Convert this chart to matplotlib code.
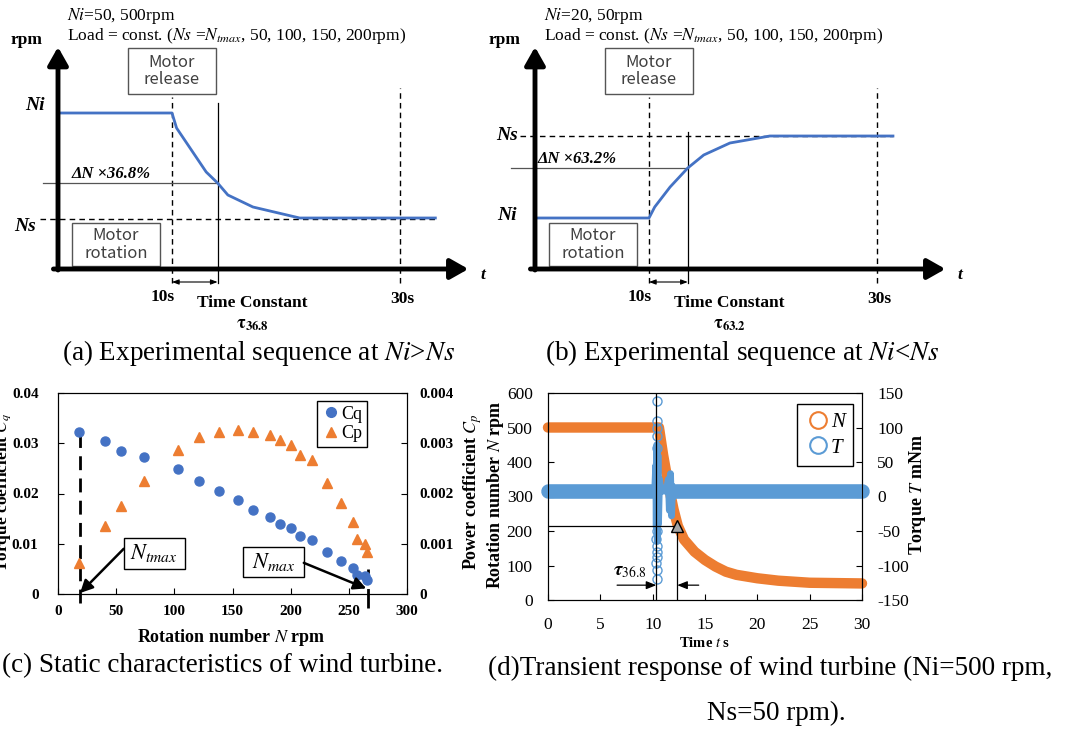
import matplotlib
matplotlib.use('Agg')
import matplotlib.pyplot as plt
from matplotlib.patches import Rectangle
from matplotlib.lines import Line2D

plt.rcParams['font.family'] = 'serif'
plt.rcParams['font.serif'] = ['Liberation Serif', 'DejaVu Serif']
plt.rcParams['mathtext.fontset'] = 'stix'
plt.rcParams['axes.unicode_minus'] = False

W, H = 1073, 731

# (a), (b) sketch curves: time s / schematic speed level
t_a = [0, 10, 10.4, 13.0, 14.0, 14.9, 17.1, 21.2, 33.1]
n_a = [156, 156, 141, 97, 86, 74, 62, 51, 51]
t_b = [0, 10, 10.5, 11.85, 13.4, 14.8, 17.1, 20.6, 31.4]
n_b = [51, 51, 62, 82, 101, 114, 126, 133, 133]

# (c) static characteristics
N_c = [18, 40, 54, 74, 103, 121, 138, 155, 168, 182, 191, 200, 208, 218, 231, 243, 254, 257, 264, 266]
Cq = [0.0323, 0.0304, 0.0285, 0.0272, 0.0248, 0.0224, 0.0205, 0.0187, 0.0167, 0.0154,
      0.0140, 0.0131, 0.0116, 0.0107, 0.0084, 0.0065, 0.0052, 0.0038, 0.0035, 0.0028]
Cp = [0.00062, 0.00136, 0.00175, 0.00225, 0.00286, 0.00312, 0.00322, 0.00327, 0.00322, 0.00316,
      0.00307, 0.00296, 0.00276, 0.00266, 0.00221, 0.00181, 0.00144, 0.00110, 0.00100, 0.00084]
cq_ticks = [0, 0.01, 0.02, 0.03, 0.04]
cq_labels = ['0', '0.01', '0.02', '0.03', '0.04']
cp_ticks = [0, 0.001, 0.002, 0.003, 0.004]
cp_labels = ['0', '0.001', '0.002', '0.003', '0.004']

# (d) transient response
t_N = [0, 10.6, 11.0, 11.5, 12.0, 12.4, 13, 14, 15, 16, 17, 18, 20, 22, 25, 30]
N_d = [500, 500, 420, 335, 262, 215, 175, 140, 116, 97, 82, 73, 63, 56, 50, 48]
t_T = [0, 10.2, 10.3, 10.35, 10.4, 10.45, 10.5, 10.55, 10.65, 10.8, 11.3, 11.5, 11.6, 11.7,
       11.8, 11.9, 12.0, 12.2, 30]
T_d = [8, 8, 45, -45, 75, -65, 60, -40, 25, 8, 8, 25, -20, 33, -28, 15, 0, 8, 8]
t_Tflat = [0, 10.2, float('nan'), 12.2, 30]
T_flat = [8, 8, float('nan'), 8, 8]
t_Tpts = [10.40, 10.45, 10.42, 10.38, 10.45, 10.40, 10.35, 10.42, 10.38, 10.40, 10.36, 10.40, 10.38]
T_pts = [138, 109, 99, 88, 70, -50, -62, -72, -80, -88, -96, -107, -119]
tau_start, tau_end, N_tau = 10.35, 12.35, 215

BLUE = '#4472C4'
ORANGE = '#ED7D31'
LBLUE = '#5B9BD5'
SANS = 'Noto Sans CJK JP'
CAP = 19.5

fig = plt.figure(figsize=(W / 100, H / 100), dpi=100)


def px_axes(left, right, top, bottom):
    return fig.add_axes([left / W, 1 - bottom / H, (right - left) / W, (bottom - top) / H])


def px_text(x, y, s, **kw):
    kw.setdefault('ha', 'center')
    kw.setdefault('va', 'center')
    return fig.text(x / W, 1 - y / H, s, **kw)


def draw_sequence(ax, t, n, info, ns_level, ns_start, ni_lab, ns_lab,
                  pct, pct_start, pct_text, pct_text_t, tau_t, tau_top, tau_text, rpm_t):
    ax.set_xlim(-58 / 11.4, (490 - 58) / 11.4)
    ax.set_ylim(-71, 269)
    ax.axis('off')
    # axes arrows
    ax.annotate('', xy=(0, 222), xytext=(0, -1), arrowprops=dict(
        arrowstyle='-|>,head_length=0.6,head_width=0.34', lw=3.5, color='k',
        mutation_scale=18, shrinkA=0, shrinkB=0))
    ax.annotate('', xy=(36.0, 0), xytext=(-0.4, 0), arrowprops=dict(
        arrowstyle='-|>,head_length=0.6,head_width=0.34', lw=3.5, color='k',
        mutation_scale=18, shrinkA=0, shrinkB=0))
    # guide lines
    ax.plot([ns_start, t[-1]], [ns_level, ns_level], color='k', lw=1, ls=(0, (4, 3)))
    ax.plot([10, 10], [-14, 172], color='k', lw=1, ls=(0, (4, 3)))
    ax.plot([30, 30], [-14, 181], color='k', lw=1, ls=(0, (4, 3)))
    ax.plot([tau_t, tau_t], [-14, tau_top], color='k', lw=0.9)
    ax.plot([pct_start, tau_t], [pct, pct], color='#555555', lw=0.9)
    ax.plot(t, n, color=BLUE, lw=2)
    ax.annotate('', xy=(tau_t, -13), xytext=(10, -13), arrowprops=dict(
        arrowstyle='<|-|>,head_length=0.4,head_width=0.15', lw=0.8, color='k',
        mutation_scale=10, shrinkA=0, shrinkB=0))
    # boxes
    for x0, x1, y0, y1, txt in [(6.1, 13.86, 175, 221, 'Motor\nrelease'),
                                (1.2, 8.95, 3, 46, 'Motor\nrotation')]:
        ax.add_patch(Rectangle((x0, y0), x1 - x0, y1 - y0, fc='white', ec='#555555', lw=1))
        ax.text((x0 + x1) / 2, (y0 + y1) / 2, txt, ha='center', va='center',
                family=SANS, fontsize=12, color='#404040', linespacing=1.05)
    # texts
    ax.text(0.79, 253, info[0], fontsize=12.5, va='center')
    ax.text(0.79, 233, info[1], fontsize=12.5, va='center')
    ax.text(rpm_t, 229, 'rpm', fontsize=12.5, fontweight='bold', ha='center', va='center')
    ax.text(ni_lab[0], ni_lab[1], 'Ni', fontsize=14, fontweight='bold', style='italic',
            ha='center', va='center')
    ax.text(ns_lab[0], ns_lab[1], 'Ns', fontsize=14, fontweight='bold', style='italic',
            ha='center', va='center')
    ax.text(pct_text_t, pct + 1, pct_text, fontsize=12, fontweight='bold', style='italic',
            va='bottom')
    ax.text(9.2, -28, '10s', fontsize=12.5, fontweight='bold', ha='center', va='center')
    ax.text(30.2, -30, '30s', fontsize=12.5, fontweight='bold', ha='center', va='center')
    ax.text(17.0, -34, 'Time Constant', fontsize=12.5, fontweight='bold', ha='center',
            va='center')
    ax.text(17.1, -56, tau_text, fontsize=13, ha='center', va='center')
    ax.text(37.3, -6, 't', fontsize=12.5, fontweight='bold', style='italic', ha='center',
            va='center')


ax_a = px_axes(0, 490, 0, 340)
draw_sequence(ax_a, t_a, n_a,
              [r'$Ni$=50, 500rpm', r'Load = const. ($Ns$ =$N_{tmax}$, 50, 100, 150, 200rpm)'],
              50, -1.58, (-2.0, 164), (-2.9, 42),
              86, -1.3, 'ΔN ×36.8%', 1.23, 14.0, 166, r'$\mathbf{\tau_{36.8}}$', -2.72)

ax_b = px_axes(477, 967, 0, 340)
draw_sequence(ax_b, t_b, n_b,
              [r'$Ni$=20, 50rpm', r'Load = const. ($Ns$ =$N_{tmax}$, 50, 100, 150, 200rpm)'],
              133, -1.3, (-2.46, 53), (-2.46, 134),
              101, -2.1, 'ΔN ×63.2%', 0.26, 13.4, 137, r'$\mathbf{\tau_{63.2}}$', -2.63)

# ---------------- (c) ----------------
ax_c = px_axes(58, 407, 393, 594)
ax_c2 = ax_c.twinx()
ax_c.plot(N_c, Cq, 'o', color=BLUE, ms=6.5, zorder=3)
ax_c2.plot(N_c, Cp, '^', color=ORANGE, ms=7, zorder=3)
ax_c.set_xlim(0, 300)
ax_c.set_ylim(0, 0.04)
ax_c2.set_ylim(0, 0.004)
ax_c.set_xticks(range(0, 301, 50), labels=[str(v) for v in range(0, 301, 50)],
                fontweight='bold', fontsize=11)
ax_c.set_yticks(cq_ticks, labels=cq_labels, fontweight='bold', fontsize=11)
ax_c2.set_yticks(cp_ticks, labels=cp_labels, fontweight='bold', fontsize=11)
ax_c.tick_params(axis='x', direction='in', length=4, pad=8)
ax_c.tick_params(axis='y', direction='in', length=4, pad=14)
ax_c2.tick_params(axis='y', direction='in', length=4, pad=9)
px_text(231, 637, r'Rotation number $N$ rpm', fontsize=13, fontweight='bold')
px_text(473, 492, r'Power coefficient $C_p$', fontsize=13, fontweight='bold', rotation=90)
px_text(3, 492, r'Torque coefficient $C_q$', fontsize=12.5, fontweight='bold', rotation=90)

ax_c.plot([18.5, 18.5], [-0.0017, 0.0322], color='k', lw=2, ls=(0, (5, 3)), clip_on=False)
ax_c.plot([266.5, 266.5], [-0.0027, 0.0050], color='k', lw=2, ls=(0, (7, 3)), clip_on=False)
for x0, x1, y0, y1, txt in [(56.5, 108.9, 0.00498, 0.01114, r'$N_{tmax}$'),
                            (158.8, 211.3, 0.00338, 0.00935, r'$N_{max}$')]:
    ax_c.add_patch(Rectangle((x0, y0), x1 - x0, y1 - y0, fc='white', ec='k', lw=1, zorder=4))
    ax_c.text((x0 + x1) / 2, (y0 + y1) / 2, txt, ha='center', va='center', fontsize=16, zorder=5)
ax_c.annotate('', xy=(19, 0.0002), xytext=(56.5, 0.0090), arrowprops=dict(
    arrowstyle='-|>,head_length=0.5,head_width=0.25', lw=1.8, color='k', mutation_scale=15,
    shrinkA=0, shrinkB=0), zorder=5)
ax_c.annotate('', xy=(265, 0.0011), xytext=(211.3, 0.0062), arrowprops=dict(
    arrowstyle='-|>,head_length=0.5,head_width=0.25', lw=1.8, color='k', mutation_scale=15,
    shrinkA=0, shrinkB=0), zorder=5)
handles = [Line2D([], [], marker='o', ls='none', color=BLUE, ms=7),
           Line2D([], [], marker='^', ls='none', color=ORANGE, ms=7.5)]
leg = ax_c2.legend(handles, ['Cq', 'Cp'], loc='upper right', bbox_to_anchor=(0.885, 0.96),
                   fontsize=13, handletextpad=0.1, borderpad=0.25, labelspacing=0.15,
                   handlelength=1.0, fancybox=False, edgecolor='k', framealpha=1,
                   borderaxespad=0)
leg.get_frame().set_linewidth(1)

# ---------------- (d) ----------------
ax_d = px_axes(548, 862, 393, 600)
ax_d2 = ax_d.twinx()
ax_d.plot(t_N, N_d, color=ORANGE, lw=7.5, solid_capstyle='round', clip_on=False)
ax_d2.plot(t_T, T_d, color=LBLUE, lw=5, solid_capstyle='round', solid_joinstyle='round')
ax_d2.plot(t_Tflat, T_flat, color=LBLUE, lw=10.5, solid_capstyle='round', clip_on=False)
ax_d2.plot(t_Tpts, T_pts, 'o', mfc='none', mec=LBLUE, ms=6.5, mew=1)
ax_d2.axvline(tau_start, color='k', lw=0.9)
ax_d2.plot([0, tau_end], [N_tau, N_tau], color='k', lw=0.9, transform=ax_d.transData)
ax_d2.plot([tau_end, tau_end], [0, N_tau], color='k', lw=0.9, transform=ax_d.transData)
ax_d2.plot([tau_end], [N_tau], '^', mfc='#A6A6A6', mec='k', ms=8, transform=ax_d.transData)
ax_d.annotate('', xy=(tau_start, 43), xytext=(6.6, 43), arrowprops=dict(
    arrowstyle='-|>,head_length=0.5,head_width=0.2', lw=0.9, color='k', mutation_scale=12,
    shrinkA=0, shrinkB=0))
ax_d.annotate('', xy=(tau_end, 43), xytext=(14.4, 43), arrowprops=dict(
    arrowstyle='-|>,head_length=0.5,head_width=0.2', lw=0.9, color='k', mutation_scale=12,
    shrinkA=0, shrinkB=0))
ax_d.text(7.8, 82, r'$\boldsymbol{\tau}_{\mathit{36.8}}$', fontsize=14, ha='center', va='center')
ax_d.set_xlim(0, 30)
ax_d.set_ylim(0, 600)
ax_d2.set_ylim(-150, 150)
ax_d.set_xticks(range(0, 31, 5))
ax_d.set_yticks(range(0, 601, 100))
ax_d2.set_yticks(range(-150, 151, 50))
ax_d.tick_params(axis='x', direction='in', length=4, pad=12, labelsize=12.5)
ax_d.tick_params(axis='y', direction='in', length=4, pad=11, labelsize=12.5)
ax_d2.tick_params(axis='y', direction='in', length=4, pad=11, labelsize=12.5)
px_text(705, 643, r'Time $t$ s', fontsize=10.5, fontweight='bold')
px_text(495, 495, r'Rotation number $N$ rpm', fontsize=13, fontweight='bold', rotation=90)
px_text(918, 495, r'Torque $T$ mNm', fontsize=13, fontweight='bold', rotation=90)
handles = [Line2D([], [], marker='o', ls='none', mfc='none', mec=ORANGE, ms=12, mew=1.5),
           Line2D([], [], marker='o', ls='none', mfc='none', mec=LBLUE, ms=12, mew=1.5)]
leg = ax_d2.legend(handles, ['N', 'T'], loc='upper right', bbox_to_anchor=(0.971, 0.947),
                   prop={'style': 'italic', 'size': 15}, handletextpad=0.0, borderpad=0.4,
                   labelspacing=0.3, handlelength=1.2, fancybox=False, edgecolor='k',
                   framealpha=1, borderaxespad=0)
leg.get_frame().set_linewidth(1)

# captions
px_text(259, 353, r'(a) Experimental sequence at $Ni$>$Ns$', fontsize=CAP)
px_text(742, 353, r'(b) Experimental sequence at $Ni$<$Ns$', fontsize=CAP)
px_text(222, 666, '(c) Static characteristics of wind turbine.', fontsize=CAP)
px_text(488, 668, '(d)Transient response of wind turbine (Ni=500 rpm,', fontsize=CAP,
        ha='left')
px_text(776, 713, 'Ns=50 rpm).', fontsize=CAP)

fig.savefig('out.png', dpi=100)
